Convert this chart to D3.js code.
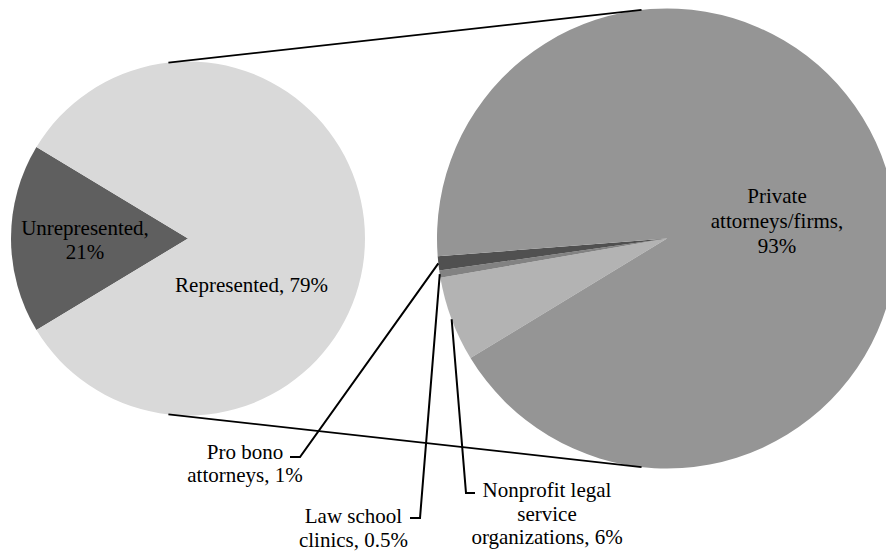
<!DOCTYPE html>
<html>
<head>
<meta charset="utf-8">
<script src="https://cdn.jsdelivr.net/npm/d3@7/dist/d3.min.js"></script>
<style>
  html, body { margin: 0; padding: 0; background: #ffffff; }
  svg { display: block; }
  text { font-family: "Liberation Serif", "Times New Roman", serif; font-size: 21px; fill: #000; }
</style>
</head>
<body>
<svg id="chart" width="886" height="552"></svg>
<script>
// ---- Data ----
const mainCategories = ["Unrepresented", "Represented"];
const unrepresentedValue = 21;
const subCategories = ["Nonprofit legal service organizations", "Law school clinics", "Pro bono attorneys", "Private attorneys/firms"];
const subValues = [6, 0.5, 1, 93];
const mainLabels = [["Unrepresented,", "21%"], ["Represented, 79%"]];
const subLabels = [["Nonprofit legal", "service", "organizations, 6%"], ["Law school", "clinics, 0.5%"], ["Pro bono", "attorneys, 1%"], ["Private", "attorneys/firms,", "93%"]];

// ---- Styles / layout ----
const mainColors = ["#5f5f5f", "#d9d9d9"];
const subColors = ["#b3b3b3", "#828282", "#505050", "#959595"];
const W = 886, H = 552;
const c1 = { x: 188, y: 238.5, r: 177 };
const c2 = { x: 667, y: 238.5, r: 230 };

const svg = d3.select("#chart");
const deg = Math.PI / 180;

// Left pie: Unrepresented vs the combined "other" (sum of second plot)
const representedValue = d3.sum(subValues);
const mainValues = [unrepresentedValue, representedValue];
const total = d3.sum(mainValues);
const unrepSpan = unrepresentedValue / total * 2 * Math.PI;
const pie1 = d3.pie().sort(null).value(d => d)
  .startAngle(1.5 * Math.PI - unrepSpan / 2)
  .endAngle(1.5 * Math.PI - unrepSpan / 2 + 2 * Math.PI);
const arc1 = d3.arc().innerRadius(0).outerRadius(c1.r);
const g1 = svg.append("g").attr("transform", `translate(${c1.x},${c1.y})`);
g1.selectAll("path").data(pie1(mainValues)).join("path")
  .attr("d", arc1).attr("fill", (d, i) => mainColors[i]);

// Right pie
const subStart = 238.7 * deg;
const pie2 = d3.pie().sort(null).value(d => d)
  .startAngle(subStart).endAngle(subStart + 2 * Math.PI);
const arc2 = d3.arc().innerRadius(0).outerRadius(c2.r);
const g2 = svg.append("g").attr("transform", `translate(${c2.x},${c2.y})`);
const subArcs = pie2(subValues);
g2.selectAll("path").data(subArcs).join("path")
  .attr("d", arc2).attr("fill", (d, i) => subColors[i]);

// Connector lines (external tangents)
const dx = c2.x - c1.x;
const th = Math.asin((c2.r - c1.r) / dx);
[-1, 1].forEach(s => {
  const p1 = [c1.x - c1.r * Math.sin(th), c1.y + s * c1.r * Math.cos(th)];
  const p2 = [c2.x - c2.r * Math.sin(th), c2.y + s * c2.r * Math.cos(th)];
  svg.append("line").attr("x1", p1[0]).attr("y1", p1[1]).attr("x2", p2[0]).attr("y2", p2[1])
    .attr("stroke", "#000").attr("stroke-width", 1.75);
});

function multiText(lines, x, y, lh) {
  const t = svg.append("text").attr("text-anchor", "middle");
  lines.forEach((l, i) => t.append("tspan").attr("x", x).attr("y", y + i * lh).text(l));
}

// Left labels
multiText(mainLabels[0], 85, 235, 23.5);
multiText(mainLabels[1], 251.5, 292, 24);

// Private label (inside)
multiText(subLabels[3], 777, 203, 25);

// Leader labels for small slices
const leaders = [
  { idx: 0, elbow: [466, 493], end: [475, 493], tx: 547, ty: 497, lh: 23.5 },
  { idx: 1, elbow: [420, 518], end: [410, 518], tx: 353.5, ty: 523, lh: 24 },
  { idx: 2, elbow: [300, 457], end: [290, 457], tx: 245, ty: 459, lh: 23 }
];
leaders.forEach(L => {
  const a = subArcs[L.idx];
  const mid = (a.startAngle + a.endAngle) / 2;
  const sx = c2.x + c2.r * Math.sin(mid);
  const sy = c2.y - c2.r * Math.cos(mid);
  svg.append("polyline")
    .attr("points", [[sx, sy], L.elbow, L.end].map(p => p.join(",")).join(" "))
    .attr("fill", "none").attr("stroke", "#000").attr("stroke-width", 2);
  multiText(subLabels[L.idx], L.tx, L.ty, L.lh);
});
</script>
</body>
</html>
